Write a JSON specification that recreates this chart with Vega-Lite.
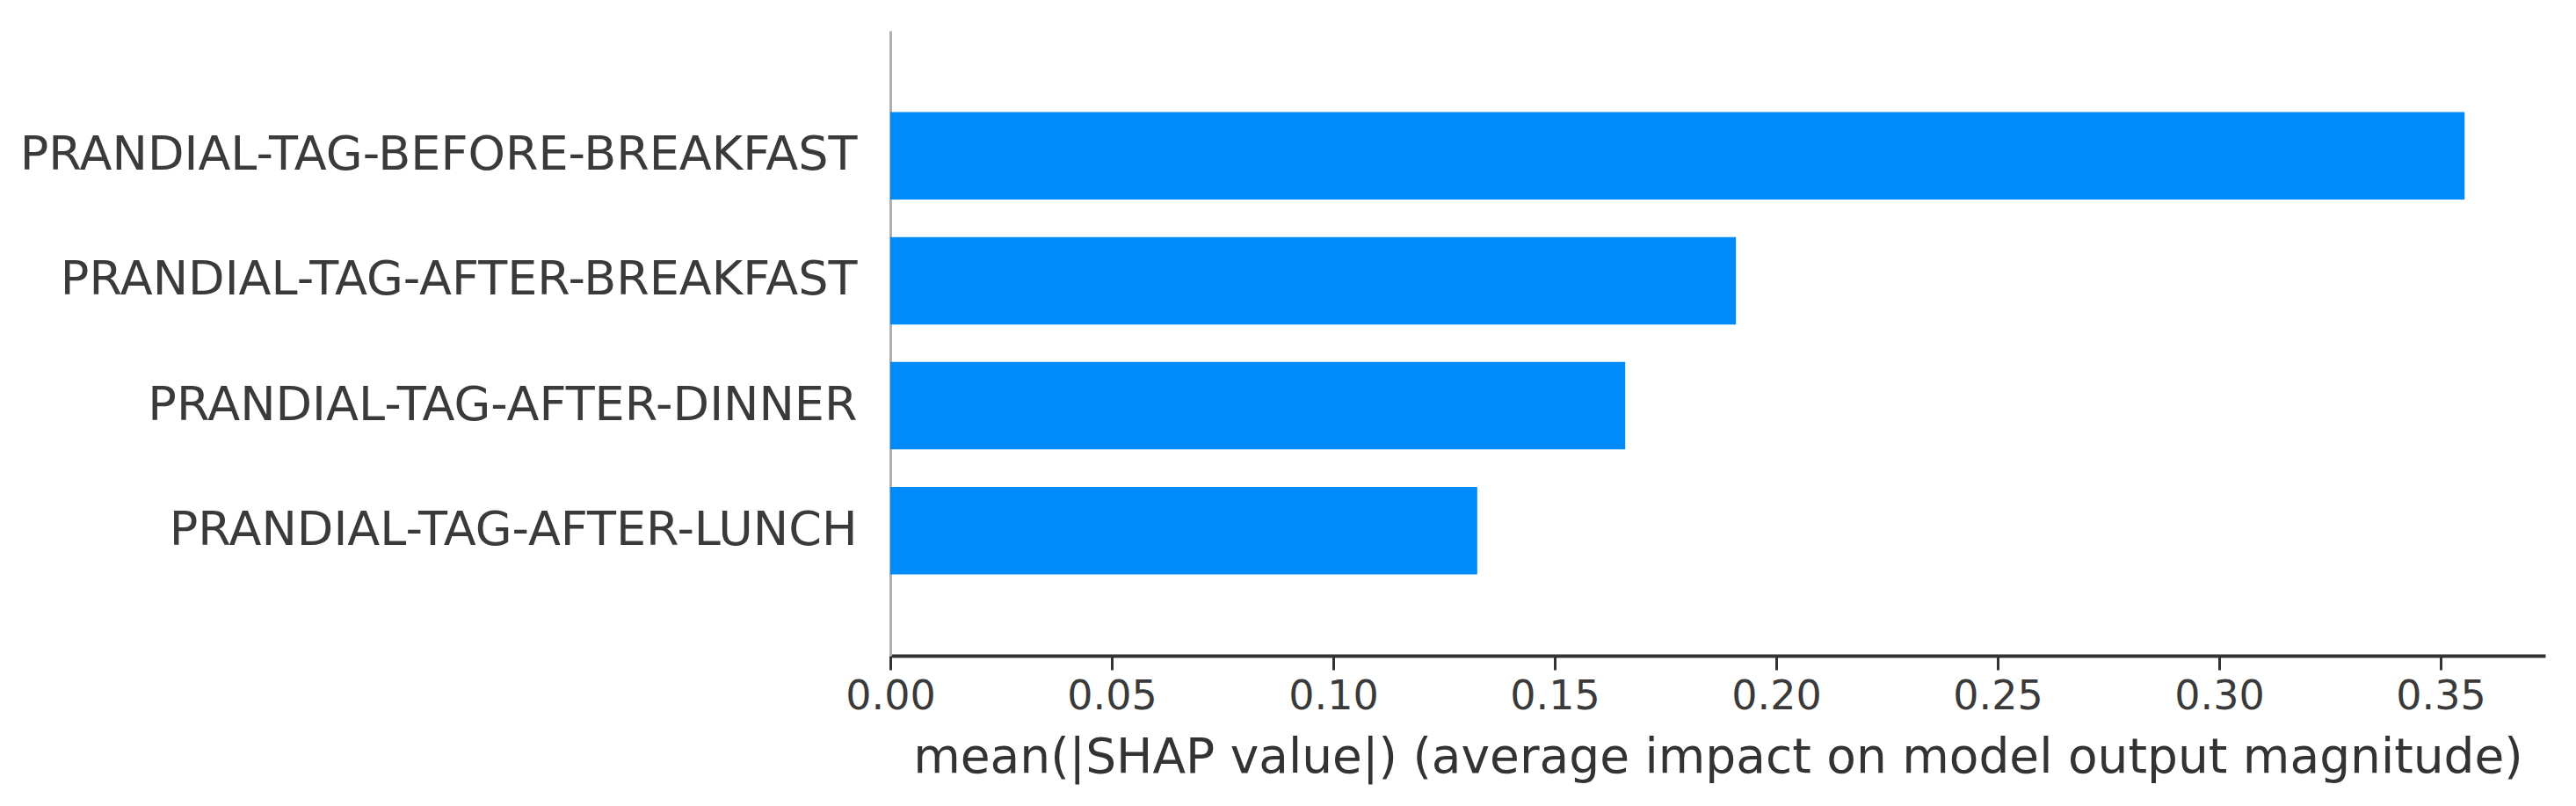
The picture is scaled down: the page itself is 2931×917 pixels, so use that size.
{
  "$schema": "https://vega.github.io/schema/vega-lite/v6.json",
  "width": 1883,
  "height": 711,
  "autosize": {"type": "none"},
  "padding": {"left": 1013, "top": 35, "right": 35, "bottom": 171},
  "background": "white",
  "config": {"view": {"stroke": null}, "font": "DejaVu Sans"},
  "data": {
    "values": [
      {"feature": "PRANDIAL-TAG-BEFORE-BREAKFAST", "value": 0.3554},
      {"feature": "PRANDIAL-TAG-AFTER-BREAKFAST", "value": 0.1909},
      {"feature": "PRANDIAL-TAG-AFTER-DINNER", "value": 0.1659},
      {"feature": "PRANDIAL-TAG-AFTER-LUNCH", "value": 0.1325}
    ]
  },
  "mark": {"type": "bar", "color": "#008bfb"},
  "encoding": {
    "y": {
      "field": "feature",
      "type": "nominal",
      "sort": ["PRANDIAL-TAG-BEFORE-BREAKFAST", "PRANDIAL-TAG-AFTER-BREAKFAST", "PRANDIAL-TAG-AFTER-DINNER", "PRANDIAL-TAG-AFTER-LUNCH"],
      "scale": {"paddingInner": 0.3, "paddingOuter": 0.65},
      "axis": {
        "title": null,
        "ticks": false,
        "labelFontSize": 54,
        "labelColor": "#3a3a3a",
        "labelPadding": 38,
        "labelLimit": 0,
        "domainColor": "#b0b0b0",
        "domainWidth": 3
      }
    },
    "x": {
      "field": "value",
      "type": "quantitative",
      "scale": {"domain": [0, 0.3736], "nice": false},
      "axis": {
        "values": [0, 0.05, 0.1, 0.15, 0.2, 0.25, 0.3, 0.35],
        "format": ".2f",
        "grid": false,
        "labelFlush": false,
        "domainColor": "#333333",
        "domainWidth": 4,
        "tickColor": "#333333",
        "tickWidth": 3,
        "tickSize": 16,
        "labelFontSize": 46,
        "labelColor": "#3a3a3a",
        "labelPadding": 8,
        "title": "mean(|SHAP value|) (average impact on model output magnitude)",
        "titleFontSize": 55,
        "titleFontWeight": "normal",
        "titleColor": "#333333",
        "titlePadding": 20
      }
    }
  }
}
